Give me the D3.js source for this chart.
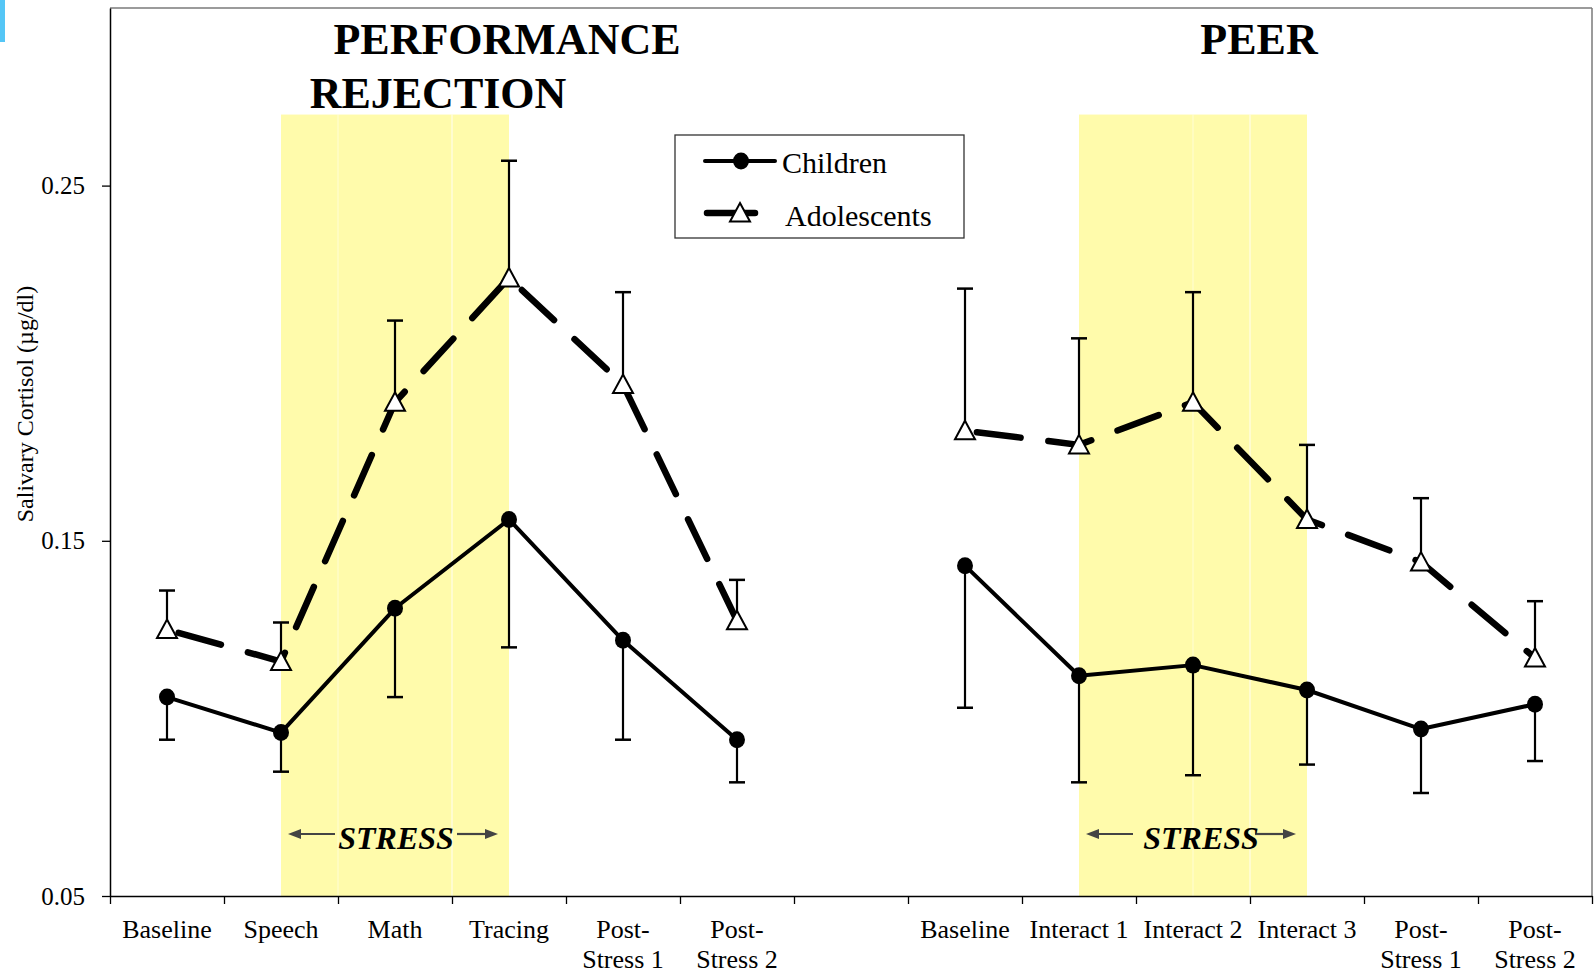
<!DOCTYPE html>
<html>
<head>
<meta charset="utf-8">
<script src="https://cdn.jsdelivr.net/npm/d3@7"></script>
<style>
  html, body { margin: 0; padding: 0; background: #fff; }
  svg { display: block; font-family: "Liberation Serif", "Times New Roman", serif; }
</style>
</head>
<body>
<svg id="chart" width="1596" height="973"></svg>
<script>
// ---------- data ----------
const leftKeys  = ["P0","P1","P2","P3","P4","P5"];
const rightKeys = ["Q0","Q1","Q2","Q3","Q4","Q5"];
const gapKey = "gap";
const leftLabels  = ["Baseline","Speech","Math","Tracing","Post-\nStress 1","Post-\nStress 2"];
const rightLabels = ["Baseline","Interact 1","Interact 2","Interact 3","Post-\nStress 1","Post-\nStress 2"];

// Performance rejection task
const perfChildren      = [0.106, 0.096, 0.131, 0.156, 0.122, 0.094];
const perfChildrenSE    = [0.012, 0.011, 0.025, 0.036, 0.028, 0.012];
const perfAdolescents   = [0.125, 0.116, 0.189, 0.224, 0.194, 0.1275];
const perfAdolescentsSE = [0.011, 0.011, 0.023, 0.033, 0.026, 0.0115];

// Peer rejection task
const peerChildren      = [0.143, 0.112, 0.115, 0.108, 0.097, 0.104];
const peerChildrenSE    = [0.040, 0.030, 0.031, 0.021, 0.018, 0.016];
const peerAdolescents   = [0.181, 0.177, 0.189, 0.156, 0.144, 0.117];
const peerAdolescentsSE = [0.040, 0.030, 0.031, 0.021, 0.018, 0.016];

const yTicks = [0.05, 0.15, 0.25];
const yDomain = [0.05, 0.30];
const bandTop = 0.27;

// ---------- setup ----------
const svg = d3.select("#chart");
const L = 110, R = 1592, T = 8, B = 896;
const slotKeys = [...leftKeys, gapKey, ...rightKeys];
const x = d3.scaleBand().domain(slotKeys).range([L, R]).paddingInner(0).paddingOuter(0);
const xc = k => x(k) + x.bandwidth() / 2;
const xIdx = d3.scaleLinear().domain([0, slotKeys.length]).range([L, R]);
const y = d3.scaleLinear().domain(yDomain).range([B, T]);

// small blue marker at top-left
svg.append("rect").attr("x", 0).attr("y", 0).attr("width", 5).attr("height", 42).attr("fill", "#55c6f6");

// ---------- stress bands ----------
const bands = [
  { from: leftKeys[1], to: leftKeys[3], lines: [x(leftKeys[2]), x(leftKeys[3])], shift: 1 },
  { from: rightKeys[1], to: rightKeys[3], lines: [xc(rightKeys[2]), x(rightKeys[3])], shift: 8 }
];
bands.forEach(b => {
  const x0 = xc(b.from), x1 = xc(b.to);
  svg.append("rect").attr("x", x0).attr("y", y(bandTop)).attr("width", x1 - x0)
     .attr("height", y(yDomain[0]) - y(bandTop)).attr("fill", "#fffbab");
  b.lines.forEach((lx, i) => {
    svg.append("line").attr("x1", lx).attr("x2", lx).attr("y1", y(bandTop)).attr("y2", B)
       .attr("stroke", "#ffffff").attr("stroke-width", 1).attr("opacity", i === 0 ? 0.5 : 0.9);
  });
  // STRESS annotation
  const mid = (x0 + x1) / 2;
  const g = svg.append("g");
  const ay = 834;
  const arrow = (tail, tip) => {
    const dir = Math.sign(tip - tail);
    g.append("line").attr("x1", tail).attr("x2", tip - dir * 10).attr("y1", ay).attr("y2", ay)
     .attr("stroke", "#444").attr("stroke-width", 2.2);
    g.append("path").attr("d", `M${tip},${ay} L${tip - dir * 13},${ay - 5} L${tip - dir * 13},${ay + 5} Z`)
     .attr("fill", "#444");
  };
  arrow(x0 + 54, x0 + 7);
  arrow(x1 - 52, x1 - 11);
  g.append("text").attr("x", mid + b.shift).attr("y", 849).attr("text-anchor", "middle")
   .attr("font-size", 32).attr("font-weight", "bold").attr("font-style", "italic")
   .attr("fill", "#000").text("STRESS");
});

// ---------- frame ----------
svg.append("line").attr("x1", L).attr("x2", R).attr("y1", T).attr("y2", T).attr("stroke", "#7a7a7a").attr("stroke-width", 1.5);
svg.append("line").attr("x1", R).attr("x2", R).attr("y1", T).attr("y2", B).attr("stroke", "#7a7a7a").attr("stroke-width", 1.5);

// ---------- axes ----------
const yAxis = d3.axisLeft(y).tickValues(yTicks).tickFormat(d3.format(".2f")).tickSize(8).tickSizeOuter(0).tickPadding(17);
const gy = svg.append("g").attr("transform", `translate(${L},0)`).call(yAxis);
gy.select(".domain").attr("stroke", "#000").attr("stroke-width", 1.5);
gy.selectAll(".tick line").attr("stroke", "#000").attr("stroke-width", 1.3);
gy.selectAll(".tick text").attr("font-size", 25).attr("font-family", "Liberation Serif").attr("fill", "#000");

const xAxis = d3.axisBottom(xIdx).tickValues(d3.range(slotKeys.length + 1)).tickFormat("").tickSize(8).tickSizeOuter(0);
const gx = svg.append("g").attr("transform", `translate(0,${B})`).call(xAxis);
gx.select(".domain").attr("stroke", "#000").attr("stroke-width", 1.5);
gx.selectAll(".tick line").attr("stroke", "#000").attr("stroke-width", 1.3);

// category labels
const labelData = [...leftKeys.map((k, i) => ({ k, t: leftLabels[i] })), ...rightKeys.map((k, i) => ({ k, t: rightLabels[i] }))];
labelData.forEach(d => {
  const t = svg.append("text").attr("x", xc(d.k)).attr("y", 938).attr("text-anchor", "middle")
    .attr("font-size", 26).attr("fill", "#000");
  d.t.split("\n").forEach((line, i) => {
    t.append("tspan").attr("x", xc(d.k)).attr("dy", i === 0 ? 0 : 29.5).text(line);
  });
});

// y title
svg.append("text").attr("transform", `translate(33,404) rotate(-90)`).attr("text-anchor", "middle")
   .attr("font-size", 24).attr("fill", "#000").text("Salivary Cortisol (\u00b5g/dl)");

// ---------- series ----------
const series = [
  { keys: leftKeys,  v: perfChildren,    se: perfChildrenSE,    kind: "child" },
  { keys: rightKeys, v: peerChildren,    se: peerChildrenSE,    kind: "child" },
  { keys: leftKeys,  v: perfAdolescents, se: perfAdolescentsSE, kind: "adol" },
  { keys: rightKeys, v: peerAdolescents, se: peerAdolescentsSE, kind: "adol" }
];
const tri = "M0,-10 L10,8.5 L-10,8.5 Z";
const line = d3.line().x(d => d.x).y(d => d.y);

// error bars
series.forEach(s => {
  const pts = s.keys.map((k, i) => ({ x: xc(k), v: s.v[i], e: s.se[i] }));
  const g = svg.append("g").attr("stroke", "#000").attr("stroke-width", 2.2);
  pts.forEach(p => {
    const end = s.kind === "child" ? p.v - p.e : p.v + p.e;
    g.append("line").attr("x1", p.x).attr("x2", p.x).attr("y1", y(p.v)).attr("y2", y(end));
    g.append("line").attr("x1", p.x - 8).attr("x2", p.x + 8).attr("y1", y(end)).attr("y2", y(end)).attr("stroke-width", 2.5);
  });
});

// lines
series.forEach(s => {
  const pts = s.keys.map((k, i) => ({ x: xc(k), y: y(s.v[i]) }));
  const p = svg.append("path").attr("d", line(pts)).attr("fill", "none").attr("stroke", "#000");
  if (s.kind === "child") {
    p.attr("stroke-width", 4).attr("stroke-linejoin", "round");
  } else {
    p.attr("stroke-width", 6.5).attr("stroke-linecap", "round").attr("stroke-dasharray", "44,28").attr("stroke-dashoffset", -12);
  }
});

// markers
series.forEach(s => {
  s.keys.forEach((k, i) => {
    if (s.kind === "child") {
      svg.append("ellipse").attr("cx", xc(k)).attr("cy", y(s.v[i])).attr("rx", 8).attr("ry", 8.5).attr("fill", "#000");
    } else {
      svg.append("path").attr("d", tri).attr("transform", `translate(${xc(k)},${y(s.v[i])})`)
         .attr("fill", "#fff").attr("stroke", "#000").attr("stroke-width", 2);
    }
  });
});

// ---------- titles ----------
const title = (txt, cx, by) => svg.append("text").attr("x", cx).attr("y", by).attr("text-anchor", "middle")
  .attr("font-size", 44).attr("font-weight", "bold").attr("fill", "#000").text(txt);
title("PERFORMANCE", 507, 54);
title("REJECTION", 438, 108);
title("PEER", 1259, 54);

// ---------- legend ----------
const lg = svg.append("g");
lg.append("rect").attr("x", 675).attr("y", 135).attr("width", 289).attr("height", 103)
  .attr("fill", "#fff").attr("stroke", "#333").attr("stroke-width", 1.3);
lg.append("line").attr("x1", 705).attr("x2", 775).attr("y1", 161).attr("y2", 161).attr("stroke", "#000").attr("stroke-width", 4).attr("stroke-linecap", "round");
lg.append("ellipse").attr("cx", 741).attr("cy", 161).attr("rx", 8).attr("ry", 8.5).attr("fill", "#000");
lg.append("text").attr("x", 782).attr("y", 173).attr("font-size", 30).attr("fill", "#000").text("Children");
lg.append("line").attr("x1", 707).attr("x2", 755).attr("y1", 213).attr("y2", 213).attr("stroke", "#000").attr("stroke-width", 6.5).attr("stroke-linecap", "round");
lg.append("path").attr("d", tri).attr("transform", "translate(740,213)").attr("fill", "#fff").attr("stroke", "#000").attr("stroke-width", 2);
lg.append("text").attr("x", 785).attr("y", 226).attr("font-size", 30).attr("fill", "#000").text("Adolescents");
</script>
</body>
</html>
